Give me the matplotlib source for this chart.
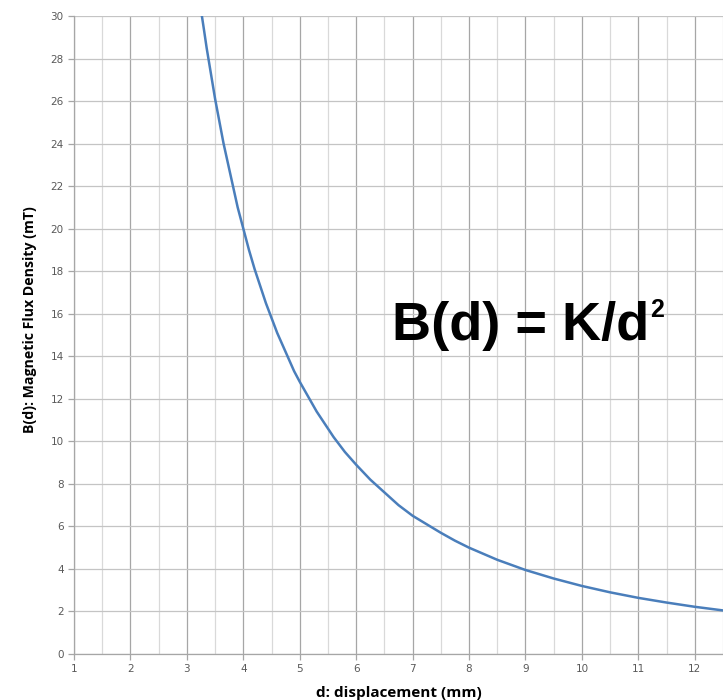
import matplotlib
matplotlib.use("Agg")
import matplotlib.pyplot as plt
from matplotlib.ticker import MultipleLocator

# values
d = [3.22, 3.26, 3.3, 3.35, 3.4, 3.45, 3.5, 3.55, 3.6, 3.65, 3.7, 3.75, 3.8, 3.85, 3.9, 3.95,
     4.0, 4.1, 4.2, 4.3, 4.4, 4.5, 4.6, 4.7, 4.8, 4.9, 5.0, 5.15, 5.3, 5.45, 5.6, 5.8,
     6.0, 6.25, 6.5, 6.75, 7.0, 7.25, 7.5, 7.75, 8.0, 8.5, 9.0, 9.5, 10.0, 10.5, 11.0,
     11.5, 12.0, 12.5]
B = [30.9, 30.1, 29.4, 28.5, 27.7, 26.9, 26.1, 25.4, 24.7, 24.0, 23.4, 22.8, 22.2, 21.6,
     21.0, 20.5, 20.0, 19.0, 18.1, 17.3, 16.5, 15.8, 15.1, 14.5, 13.9, 13.3, 12.8, 12.1,
     11.4, 10.8, 10.2, 9.5, 8.9, 8.2, 7.6, 7.0, 6.5, 6.1, 5.7, 5.33, 5.0, 4.43, 3.95,
     3.55, 3.2, 2.9, 2.64, 2.42, 2.22, 2.05]

fig = plt.figure(figsize=(7.23, 7.00), dpi=100)
ax = fig.add_axes([0.1024, 0.0657, 0.8976, 0.9114])

ax.set_xlim(1, 12.5)
ax.set_ylim(0, 30)
ax.xaxis.set_major_locator(MultipleLocator(1))
ax.xaxis.set_minor_locator(MultipleLocator(0.5))
ax.yaxis.set_major_locator(MultipleLocator(2))

ax.grid(True, which="major", axis="x", color="#a6a6a6", lw=0.9)
ax.grid(True, which="minor", axis="x", color="#d9d9d9", lw=0.9)
ax.grid(True, which="major", axis="y", color="#c4c4c4", lw=0.9)
ax.set_axisbelow(True)

for s in ["top", "right"]:
    ax.spines[s].set_visible(False)
for s in ["left", "bottom"]:
    ax.spines[s].set_color("#a6a6a6")
    ax.spines[s].set_linewidth(0.9)

ax.tick_params(which="major", length=4, width=0.9, color="#a6a6a6",
               labelsize=7.5, labelcolor="#595959")
ax.tick_params(which="minor", length=0)

ax.plot(d, B, color="#4a7ebb", lw=1.8, clip_on=True)

ax.set_xlabel("d: displacement (mm)", fontsize=11, fontweight="bold",
              family="Open Sans", labelpad=8)
ax.set_ylabel("B(d): Magnetic Flux Density (mT)", fontsize=10.2, fontweight="bold",
              family="Open Sans")
ax.yaxis.set_label_coords(-0.057, 0.5235)

# formula label, exponent drawn as its own smaller text
ax.text(6.64, 14.76, "B(d) = K/d", fontsize=39, fontweight="bold",
        family="Liberation Sans", va="baseline", ha="left")
ax.text(11.2, 15.85, "2", fontsize=18, fontweight="bold",
        family="Liberation Sans", va="baseline", ha="left")

fig.savefig("out.png", dpi=100)
